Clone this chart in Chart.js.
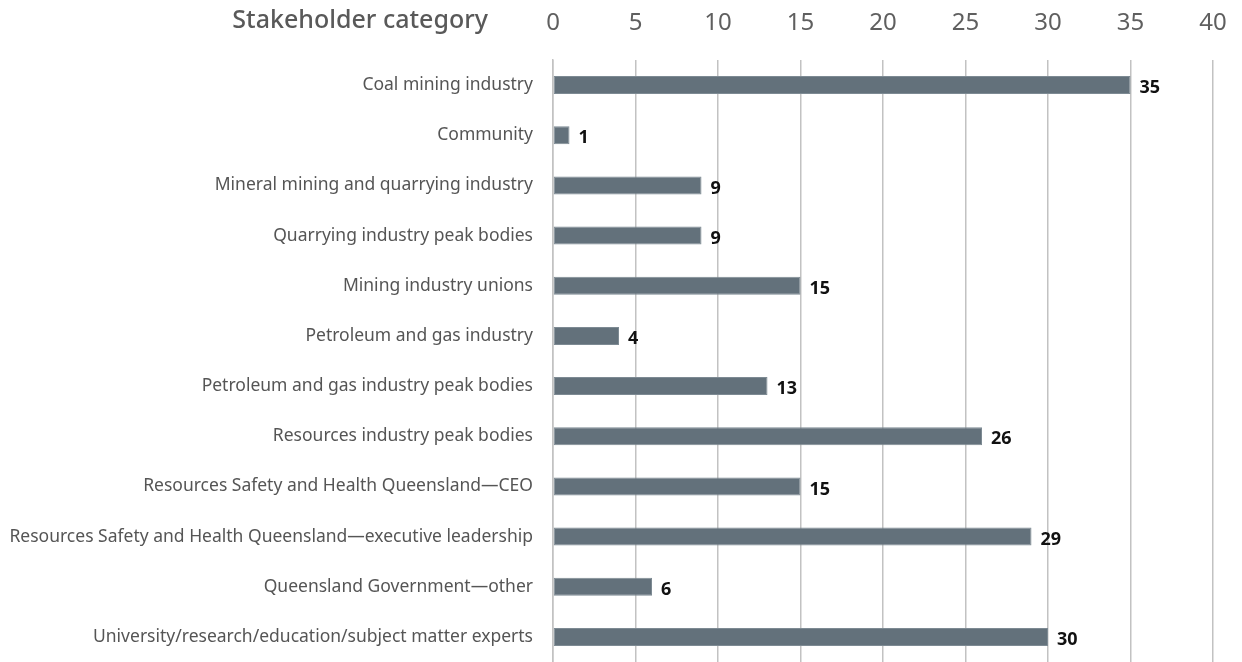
<!DOCTYPE html>
<html>
<head>
<meta charset="utf-8">
<script src="https://cdn.jsdelivr.net/npm/chart.js@4"></script>
<style>
html,body{margin:0;padding:0;background:#fff;overflow:hidden;}
canvas{display:block;}
</style>
</head>
<body>
<canvas id="c" width="1242" height="662"></canvas>
<script>
const categories = [
  "Coal mining industry",
  "Community",
  "Mineral mining and quarrying industry",
  "Quarrying industry peak bodies",
  "Mining industry unions",
  "Petroleum and gas industry",
  "Petroleum and gas industry peak bodies",
  "Resources industry peak bodies",
  "Resources Safety and Health Queensland\u2014CEO",
  "Resources Safety and Health Queensland\u2014executive leadership",
  "Queensland Government\u2014other",
  "University/research/education/subject matter experts"
];
const counts = [35, 1, 9, 9, 15, 4, 13, 26, 15, 29, 6, 30];
const axisTitle = "Stakeholder category";
const xMin = 0, xMax = 40, xStep = 5;

const FONT = "'Noto Sans', 'Open Sans', sans-serif";

const labelPlugin = {
  id: 'labels',
  afterDatasetsDraw(chart) {
    const ctx = chart.ctx;
    const meta = chart.getDatasetMeta(0);
    ctx.save();
    ctx.font = "bold 18px " + FONT;
    ctx.fillStyle = "#111";
    ctx.textAlign = "left";
    ctx.textBaseline = "middle";
    meta.data.forEach((bar, i) => {
      ctx.fillText(String(counts[i]), bar.x + 9, bar.y + 3);
    });
    ctx.font = "500 25px " + FONT;
    ctx.fillStyle = "#595959";
    ctx.textAlign = "right";
    ctx.textBaseline = "middle";
    ctx.fillText(axisTitle, 488, 21);
    ctx.restore();
  }
};

new Chart(document.getElementById('c'), {
  type: 'bar',
  data: {
    labels: categories,
    datasets: [{
      data: counts,
      backgroundColor: '#63717b',
      borderColor: '#7d8a93',
      borderWidth: 1,
      borderSkipped: false,
      barPercentage: 0.72,
      categoryPercentage: 0.5
    }]
  },
  options: {
    indexAxis: 'y',
    responsive: false,
    animation: false,
    layout: { padding: { left: 0, right: 29, top: 0, bottom: 0 } },
    plugins: { legend: { display: false }, tooltip: { enabled: false } },
    scales: {
      x: {
        position: 'top',
        min: xMin, max: xMax,
        ticks: { stepSize: xStep, color: '#5f5f5f', font: { family: FONT, size: 24 }, padding: 22 },
        grid: { color: '#c2c2c2', lineWidth: 1.5, drawTicks: false },
        border: { display: false },
        afterFit(s) { s.height = 60; s.paddingLeft = 0; s.paddingRight = 0; s.paddingTop = 0; s.paddingBottom = 0; }
      },
      y: {
        ticks: { color: '#555', font: { family: FONT, size: 17.5 }, padding: 20, autoSkip: false },
        grid: { display: false, drawTicks: false },
        border: { display: true, color: '#c2c2c2', width: 1.5 },
        afterFit(s) { s.width = 553; s.paddingTop = 0; s.paddingBottom = 0; s.paddingLeft = 0; s.paddingRight = 0; }
      }
    }
  },
  plugins: [labelPlugin]
});
</script>
</body>
</html>
